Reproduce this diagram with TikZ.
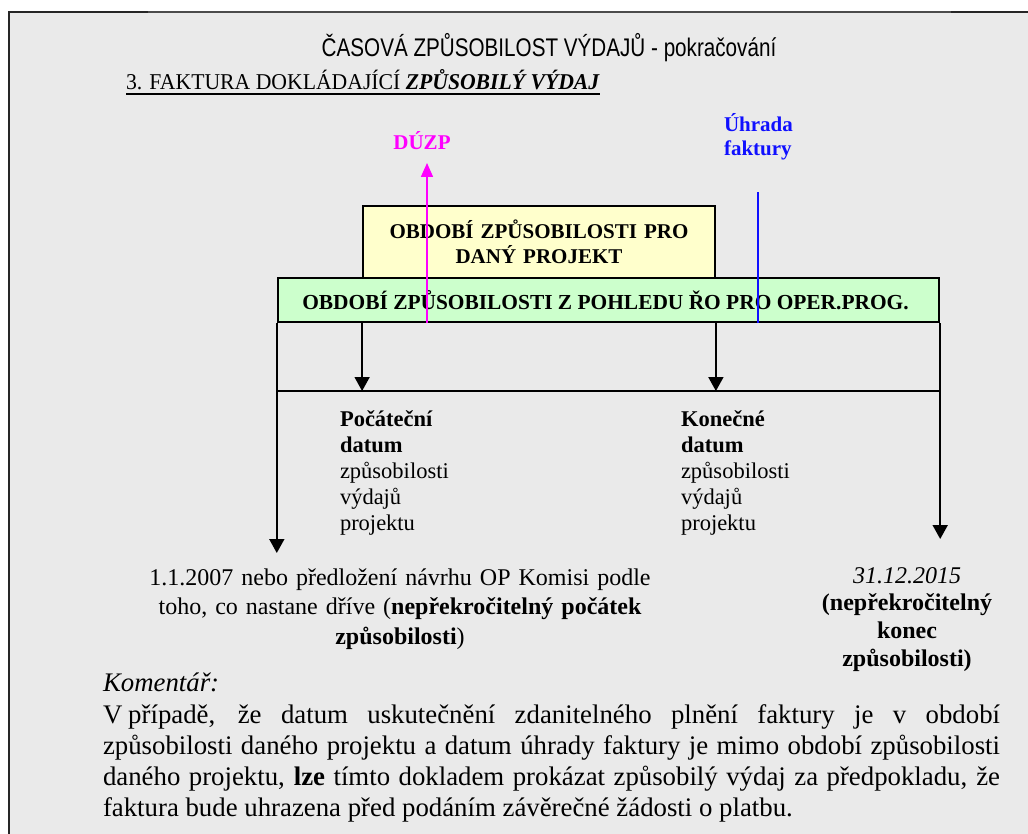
\documentclass[tikz,border=0pt]{standalone}
\usepackage{fontspec}
\setmainfont{Liberation Serif}
\newfontfamily\titlefont[FakeStretch=0.81]{Liberation Sans}
\newfontfamily\subfont[FakeStretch=0.96]{Liberation Serif}
\usetikzlibrary{arrows.meta}
\definecolor{bg}{HTML}{EAEAEA}
\definecolor{yel}{HTML}{FFFFCC}
\definecolor{grn}{HTML}{CCFFCC}
\definecolor{mag}{HTML}{FF00FF}
\definecolor{blu}{HTML}{1010FF}
\hyphenpenalty=10000
\exhyphenpenalty=10000
\begin{document}
\begin{tikzpicture}[x=1pt,y=-1pt,
  box/.style={draw=black, line width=1.8pt, inner sep=0pt, font=\fontsize{21}{25}\selectfont\bfseries, align=center},
  conn/.style={line width=1.8pt},
  tipd/.style={-{Triangle[length=14pt,width=15pt]}},
  txt/.style={inner sep=0pt, outer sep=0pt}
]
\useasboundingbox (0,0) rectangle (1028,834);
\fill[white] (0,0) rectangle (1028,834);
\fill[bg] (9,12) rectangle (1028,834);
\draw[line width=2pt, black!85] (8.5,834) -- (8.5,12) -- (148,12);
\draw[line width=1.2pt, black!70] (148,12) -- (951,12);
\draw[line width=1.6pt, black!85] (951,12) -- (1028,12);

% titles
\node[txt, anchor=base, font=\titlefont\fontsize{25.5}{30}\selectfont] (title) at (549,57) {ČASOVÁ ZPŮSOBILOST VÝDAJŮ - pokračování};
\node[txt, anchor=base west, font=\subfont\fontsize{22.6}{26}\selectfont] (sub) at (126,90) {3. FAKTURA DOKLÁDAJÍCÍ \textbf{\textit{ZPŮSOBILÝ VÝDAJ}}};
\draw[line width=1.5pt] ([yshift=-4pt]sub.base west) -- ([yshift=-4pt]sub.base east);

% labels on top
\node[txt, anchor=base, text=mag, font=\fontsize{21}{25}\selectfont\bfseries] (duzp) at (422,150) {DÚZP};
\node[txt, anchor=base west, text=blu, text width=100pt, align=left, font=\fontsize{21}{24}\selectfont\bfseries] (uhr) at (724,132) {Úhrada\\faktury};

% boxes
\node[box, fill=yel, minimum width=352pt, minimum height=72pt, text width=340pt] (proj) at (539,242) {OBDOBÍ ZPŮSOBILOSTI PRO\\DANÝ PROJEKT};
\node[box, fill=grn, minimum width=661.6pt, minimum height=44pt, font=\fontsize{21.4}{25}\selectfont\bfseries] (op) at (608.5,300.3) {OBDOBÍ ZPŮSOBILOSTI Z POHLEDU ŘO PRO OPER.PROG.\hspace{6pt}};

% connectors
\coordinate (hl) at (0,391);
\coordinate (tipL) at (0,553);
\coordinate (tipR) at (0,539);
\coordinate (dtop) at (427,163);
\coordinate (btop) at (758,192);
\draw[conn] (op.south west |- hl) -- (op.south east |- hl);
\draw[conn,tipd] (op.south west) -- (op.south west |- tipL);
\draw[conn,tipd] (op.south east) -- (op.south east |- tipR);
\draw[conn,tipd] (proj.south west |- op.south) -- (proj.south west |- hl);
\draw[conn,tipd] (proj.south east |- op.south) -- (proj.south east |- hl);
\draw[mag, line width=1.5pt, -{Triangle[length=14pt,width=12pt]}] (op.south -| dtop) -- (dtop);
\draw[blu, line width=1.5pt] (op.south -| btop) -- (btop);

% date labels
\node[txt, anchor=base west, text width=150pt, align=left, font=\fontsize{22.5}{26}\selectfont] (poc) at (340,426) {\textbf{Počáteční}\\\textbf{datum}\\způsobilosti\\výdajů\\projektu};
\node[txt, anchor=base west, text width=150pt, align=left, font=\fontsize{22.5}{26}\selectfont] (kon) at (681,426) {\textbf{Konečné}\\\textbf{datum}\\způsobilosti\\výdajů\\projektu};
\node[txt, anchor=base, text width=520pt, align=center, font=\fontsize{24}{29.5}\selectfont] (start) at (400,585) {1.1.2007 nebo předložení návrhu OP Komisi podle\\toho, co nastane dříve (\textbf{nepřekročitelný počátek}\\\textbf{způsobilosti})};
\node[txt, anchor=base, text width=200pt, align=center, font=\fontsize{24}{27.7}\selectfont] (end) at (907,583) {\textit{31.12.2015}\\\textbf{(nepřekročitelný}\\\textbf{konec}\\\textbf{způsobilosti)}};

% comment
\node[txt, anchor=base west, font=\fontsize{26.8}{31.5}\selectfont\itshape] (kom) at (103,691) {Komentář:};
\node[txt, anchor=base west, text width=897pt, align=justify, font=\fontsize{26.8}{31}\selectfont] (par) at (103,723) {V\kern0.22em případě, že datum uskutečnění zdanitelného plnění faktury je v období\linebreak
způsobilosti daného projektu a datum úhrady faktury je mimo období způsobilosti\linebreak
daného projektu, \textbf{lze} tímto dokladem prokázat způsobilý výdaj za předpokladu, že\linebreak
faktura bude uhrazena před podáním závěrečné žádosti o platbu.};
\end{tikzpicture}
\end{document}
